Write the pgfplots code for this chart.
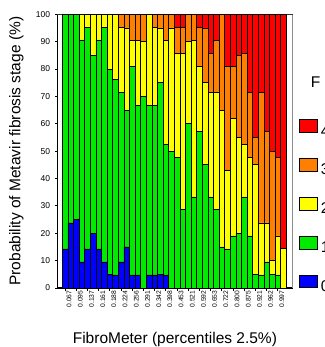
\documentclass[border=0pt]{standalone}
\usepackage{fontspec}
\setmainfont{Liberation Sans}
\usepackage{pgfplots}
\pgfplotsset{compat=1.18}
\usepackage{pgfplotstable}
\definecolor{cs0}{RGB}{0,0,255}
\definecolor{cs1}{RGB}{0,235,0}
\definecolor{cs2}{RGB}{255,255,0}
\definecolor{cs3}{RGB}{255,128,0}
\definecolor{cs4}{RGB}{255,0,0}
\newcommand\lblfont{\fontsize{15.5bp}{18bp}\selectfont}
\newcommand\lgbox[1]{\draw[#1, draw=black, line width=0.8bp] (0bp,-0.75bp) rectangle (17.5bp,11.75bp);}
\pgfplotsset{lgbox/.style={legend image code/.code={\lgbox{##1}}}}

\pgfplotstableread{
k s0 s1 s2 s3 s4
1 14.3 85.7 0 0 0
2 23.8 76.2 0 0 0
3 25 75 0 0 0
4 9.5 81.0 9.5 0 0
5 14.3 80.9 4.8 0 0
6 20 65 15 0 0
7 14.3 76.2 9.5 0 0
8 9.5 85.7 4.8 0 0
9 5 75 20 0 0
10 4.8 71.4 23.8 0 0
11 9.5 61.9 23.8 4.8 0
12 15 50 30 5 0
13 4.8 76.2 9.5 9.5 0
14 4.8 61.9 23.8 9.5 0
15 0 70 20 10 0
16 4.8 61.9 33.3 0 0
17 4.8 61.9 28.5 4.8 0
18 5 70 20 5 0
19 4.8 47.6 38.1 9.5 0
20 0 50 45 5 0
21 0 47.6 38.1 9.5 4.8
22 0 28.6 57.1 9.5 4.8
23 0 60 30 10 0
24 0 33.3 57.2 9.5 0
25 0 57.1 23.9 14.2 4.8
26 0 45 30 20 5
27 0 33.3 38.1 14.3 14.3
28 0 28.6 42.8 19.1 9.5
29 0 15 50 35 0
30 0 14.3 28.6 38.1 19
31 0 19 42.9 19.1 19
32 0 20 35 30 15
33 0 33.3 19.1 33.3 14.3
34 0 19 28.6 23.8 28.6
35 0 5 40 10 45
36 0 4.8 19 47.6 28.6
37 0 9.5 14.3 33.3 42.9
38 0 5 5 40 50
39 0 4.8 14.2 28.6 52.4
40 0 0 14.5 0 85.5
}\data

\begin{document}
\begin{tikzpicture}
\useasboundingbox (0,0) rectangle (325bp,347bp);
\begin{axis}[
  at={(57.3bp,59bp)}, anchor=south west,
  scale only axis, width=235.2bp, height=273.7bp,
  xmin=-0.393, xmax=41.61, ymin=0, ymax=100,
  ybar stacked, bar width=1,
  clip=false,
  axis x line*=bottom, axis y line*=left,
  axis line style={line width=1.3bp, black},
  xtick={1,3,...,39},
  xticklabels={0.067,0.095,0.137,0.161,0.188,0.224,0.256,0.291,0.342,0.398,0.453,0.521,0.592,0.653,0.722,0.800,0.875,0.921,0.962,0.997},
  ytick={0,10,...,100},
  tick align=outside,
  major tick length=2.5bp,
  tick style={black, line width=0.8bp},
  /pgf/number format/assume math mode=true,
  yticklabel style={font=\fontsize{8.5bp}{10bp}\selectfont, inner sep=0pt, anchor=east, xshift=-4.5bp},
  xticklabel style={font=\fontsize{6.7bp}{8bp}\selectfont, inner sep=0pt, rotate=90, anchor=east, yshift=-4bp},
  xlabel={FibroMeter (percentiles 2.5\%)},
  ylabel={Probability of Metavir fibrosis stage (\%)},
  xlabel style={font=\lblfont, at={(axis description cs:0.5,-0.201)}, anchor=base, inner sep=0pt},
  ylabel style={font=\lblfont, at={(axis description cs:-0.1565,0.5)}, anchor=base, inner sep=0pt},
  legend entries={0,1,2,3,4},
  reverse legend,
  legend style={draw=none, fill=none, inner sep=0pt, outer sep=0pt,
    at={(axis description cs:1.0289,0.6164)}, anchor=north west,
    row sep=20.65bp, column sep=3.3bp,
    nodes={inner sep=0pt, font=\lblfont}},
  legend cell align=left,
]
\addplot[fill=cs0, draw=black, line width=0.7bp, lgbox] table[x=k, y=s0] {\data};
\addplot[fill=cs1, draw=black, line width=0.7bp, lgbox] table[x=k, y=s1] {\data};
\addplot[fill=cs2, draw=black, line width=0.7bp, lgbox] table[x=k, y=s2] {\data};
\addplot[fill=cs3, draw=black, line width=0.7bp, lgbox] table[x=k, y=s3] {\data};
\addplot[fill=cs4, draw=black, line width=0.7bp, lgbox] table[x=k, y=s4] {\data};
\draw[black!80, line width=0.7bp] (rel axis cs:0,1) -- (rel axis cs:1,1);
\draw[black!45, line width=0.9bp] (rel axis cs:1,1) -- (rel axis cs:1,0);
\end{axis}
\node[anchor=base west, inner sep=0pt, font=\lblfont] at (310.7bp,259bp) {F};
\end{tikzpicture}
\end{document}
